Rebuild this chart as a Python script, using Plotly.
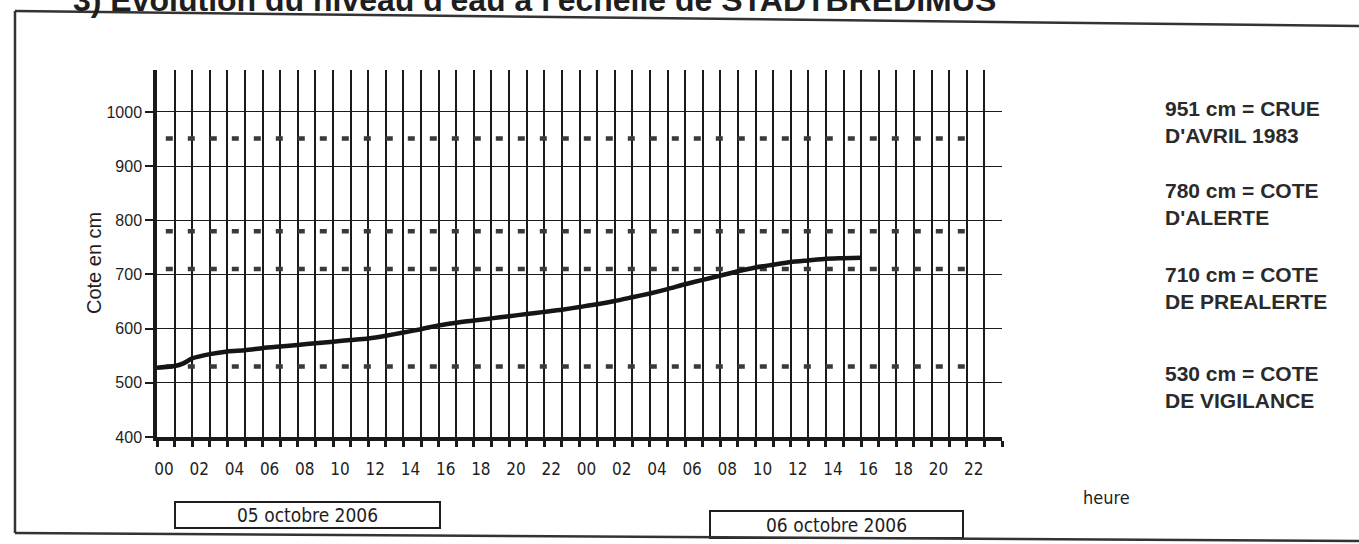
import plotly.graph_objects as go

# ---------------- data ----------------
hours = [0, 1, 1.5, 2, 3, 4, 5, 6, 7, 8, 9, 10, 11, 12, 13, 14, 15, 16, 17, 18, 19, 20,
         21, 22, 23, 24, 25, 26, 27, 28, 29, 30, 31, 32, 33, 34, 35, 36, 37, 38, 39, 40]
levels = [528, 531, 536, 545, 553, 558, 560, 564, 567, 570, 573, 576, 579, 582, 587, 593, 599, 606,
          611, 615, 619, 623, 627, 631, 635, 640, 645, 651, 658, 665, 673, 682, 690, 698, 706,
          713, 718, 723, 726, 729, 730, 731]

ref_levels = [951, 780, 710, 530]
ref_span = [0.5, 46.4]
ref_labels = ["951 cm = CRUE<br>D'AVRIL 1983",
              "780 cm = COTE<br>D'ALERTE",
              "710 cm = COTE<br>DE PREALERTE",
              "530 cm = COTE<br>DE VIGILANCE"]
ref_label_ypx = [122, 204, 288, 387]

tick_hours = list(range(0, 49))
tick_text = [("%02d" % (h % 24)) if (h % 2 == 0 and h < 48) else "" for h in tick_hours]
y_ticks = [400, 500, 600, 700, 800, 900, 1000]
dates = ["05 octobre 2006", "06 octobre 2006"]

# ---------------- geometry helpers (layout only) ----------------
W, H = 1359, 544
L, R, T, B = 157, 1002, 70, 437
PW, PH = R - L, B - T


def px(x):
    return (x - L) / PW


def py(y):
    return 1 - (y - T) / PH


INK = "#1e1e1e"
NARROW = "Liberation Sans Narrow, DejaVu Sans Condensed, Arial"

fig = go.Figure()

for lv in ref_levels:
    fig.add_trace(go.Scatter(
        x=ref_span, y=[lv, lv], mode="lines",
        line=dict(color="#3a3a3a", width=4.5, dash="7px,15px"),
        hoverinfo="skip", showlegend=False))

fig.add_trace(go.Scatter(
    x=hours, y=levels, mode="lines",
    line=dict(color="#151515", width=4.5, shape="spline", smoothing=0.6),
    showlegend=False))

annotations = []
for txt, ypx in zip(ref_labels, ref_label_ypx):
    annotations.append(dict(
        x=px(1163), y=py(ypx), xref="paper", yref="paper",
        xanchor="left", yanchor="middle", align="left", showarrow=False,
        text="<b>" + txt + "</b>",
        font=dict(family="Liberation Sans, Arial", size=21, color="#2a2a2a")))

# title (partly cut by page top, as in the scan)
annotations.append(dict(
    x=px(998), y=py(20), xref="paper", yref="paper", xanchor="right", yanchor="bottom",
    showarrow=False, text="<b>3) Evolution du niveau d'eau à l'échelle de STADTBREDIMUS</b>",
    font=dict(family="Liberation Sans, Arial", size=32, color=INK)))

# y-axis title
annotations.append(dict(
    x=px(94), y=py(263), xref="paper", yref="paper", xanchor="center", yanchor="middle",
    showarrow=False, text="Cote en cm", textangle=-90,
    font=dict(family="Liberation Sans, Arial", size=20, color=INK)))

annotations.append(dict(
    x=px(1106), y=py(498), xref="paper", yref="paper", xanchor="center", yanchor="middle",
    showarrow=False, text="heure",
    font=dict(family=NARROW, size=18, color=INK)))

boxes = [(175, 502, 440, 528), (710, 511, 963, 538)]
shapes = []
for (x0, y0, x1, y1), d in zip(boxes, dates):
    shapes.append(dict(type="rect", xref="paper", yref="paper",
                       x0=px(x0), x1=px(x1), y0=py(y1), y1=py(y0),
                       line=dict(color=INK, width=2)))
    annotations.append(dict(
        x=px((x0 + x1) / 2), y=py((y0 + y1) / 2), xref="paper", yref="paper",
        xanchor="center", yanchor="middle", showarrow=False, text=d,
        font=dict(family=NARROW, size=19, color=INK)))

# outer frame of the scanned page
for (x0, y0, x1, y1, w) in [(15, 11, 1359, 26, 2.5), (15, 11, 15, 533, 2.5), (15, 533, 1359, 541, 2.5)]:
    shapes.append(dict(type="line", xref="paper", yref="paper",
                       x0=px(x0), x1=px(x1), y0=py(y0), y1=py(y1),
                       line=dict(color="#333", width=w)))

fig.update_layout(
    width=W, height=H,
    margin=dict(l=L, r=W - R, t=T, b=H - B, pad=0),
    paper_bgcolor="white", plot_bgcolor="white",
    annotations=annotations, shapes=shapes,
    font=dict(family="Liberation Sans, Arial", color=INK),
)

fig.update_xaxes(
    range=[0, 48], tickmode="array", tickvals=tick_hours, ticktext=tick_text,
    showgrid=True, gridcolor="#1a1a1a", gridwidth=1.6,
    showline=True, linecolor="#1a1a1a", linewidth=3.5,
    ticks="outside", ticklen=6, tickwidth=2.5, tickcolor="#1a1a1a",
    tickfont=dict(family=NARROW, size=17, color=INK),
    ticklabelshift=7, ticklabelstandoff=8,
    zeroline=False, fixedrange=True,
)

fig.update_yaxes(
    range=[400, 1077.5], tickmode="array", tickvals=y_ticks,
    showgrid=True, gridcolor="#1a1a1a", gridwidth=1.3,
    showline=True, linecolor="#1a1a1a", linewidth=3.5,
    ticks="outside", ticklen=8, tickwidth=2, tickcolor="#1a1a1a",
    tickfont=dict(family="Liberation Sans, Arial", size=16, color=INK),
    zeroline=False, fixedrange=True,
)

fig.write_html("out.html", config={"displayModeBar": False},
               post_script="document.body.style.margin='0';document.body.style.overflow='hidden';")
